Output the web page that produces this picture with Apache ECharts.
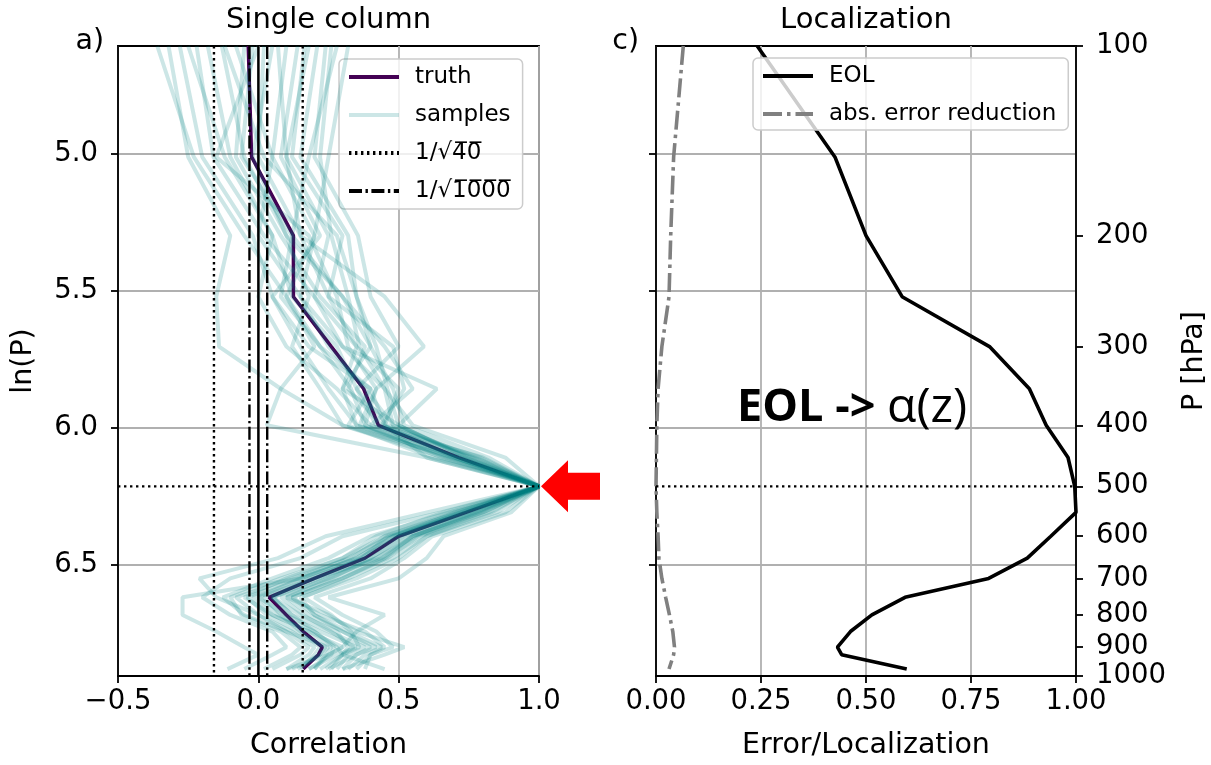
<!DOCTYPE html>
<html><head><meta charset="utf-8">
<script src="https://cdn.jsdelivr.net/npm/echarts@6/dist/echarts.min.js"></script>
<style>html,body{margin:0;padding:0;background:#fff}#c{width:1211px;height:765px}</style>
</head><body><div id="c"></div>
<script>
// ---------------- data ----------------
const levels = [100,150,200,250,300,350,400,450,500,550,600,650,700,750,800,850,900,925,975];
const truth  = [-0.036,-0.024,0.125,0.125,0.26,0.375,0.428,0.714,1,0.74,0.5,0.38,0.2,0.038,0.1,0.16,0.228,0.214,0.16];
const samples = [
 [-0.36,-0.23,-0.05,0.10,0.22,0.40,0.45,0.70,1,0.72,0.45,0.30,0.10,-0.05,0.05,0.18,0.30,0.25,0.10],
 [-0.32,-0.25,-0.10,-0.15,-0.14,0.08,0.30,0.66,1,0.78,0.55,0.42,0.25,0.05,0.12,0.20,0.28,0.30,0.22],
 [-0.22,-0.16,0.02,0.20,0.35,0.30,0.50,0.74,1,0.70,0.48,0.35,0.15,-0.27,-0.27,-0.15,-0.05,0.00,-0.11],
 [-0.13,-0.05,0.10,0.30,0.45,0.55,0.40,0.80,1,0.85,0.60,0.50,0.35,0.15,0.20,0.30,0.40,0.35,0.25],
 [-0.08,0.05,0.20,0.15,0.30,0.45,0.55,0.88,1,0.80,0.55,0.45,0.28,0.10,0.25,0.35,0.52,0.45,0.30],
 [0.02,0.00,0.15,0.45,0.59,0.42,0.38,0.65,1,0.68,0.40,0.25,0.05,-0.126,-0.05,0.10,0.18,0.15,0.05],
 [0.07,0.10,0.25,0.20,0.30,0.636,0.50,0.75,1,0.76,0.52,0.40,0.22,0.05,0.15,0.28,0.32,0.30,0.45],
 [0.165,0.12,0.30,0.25,0.35,0.50,0.45,0.60,1,0.90,0.66,0.60,0.50,0.25,0.45,0.35,0.30,0.25,0.20],
 [0.21,0.15,0.32,0.35,0.40,0.30,0.35,0.72,1,0.65,0.30,0.15,-0.10,-0.20,-0.10,0.05,0.10,0.05,-0.05],
 [0.24,0.20,0.355,0.40,0.50,0.35,0.42,0.70,1,0.75,0.48,0.35,0.15,0.00,0.10,0.22,0.35,0.28,0.18],
 [0.32,0.25,0.20,0.10,0.20,0.08,0.03,0.60,1,0.60,0.24,0.07,-0.21,-0.15,0.00,0.12,0.20,0.18,0.10],
 [-0.28,-0.20,-0.02,0.05,0.15,0.25,0.35,0.68,1,0.82,0.58,0.45,0.30,0.12,0.22,0.38,0.45,0.40,0.35],
 [-0.18,-0.10,0.05,0.00,0.10,0.28,0.40,0.73,1,0.78,0.55,0.44,0.20,0.02,0.08,0.15,0.22,0.20,0.15],
 [0.10,0.05,0.00,0.15,0.25,0.38,0.48,0.78,1,0.72,0.50,0.38,0.18,0.05,0.12,0.25,0.38,0.32,0.28],
 [-0.05,-0.08,0.08,0.22,0.38,0.32,0.44,0.72,1,0.70,0.45,0.33,0.12,-0.08,0.00,0.10,0.25,0.22,0.12],
 [0.28,0.18,0.12,0.30,0.40,0.48,0.52,0.82,1,0.88,0.62,0.52,0.40,0.20,0.30,0.42,0.48,0.40,0.38],
 [0.00,-0.15,0.18,0.28,0.32,0.42,0.36,0.67,1,0.74,0.50,0.36,0.16,-0.02,0.05,0.18,0.26,0.24,0.20],
 [-0.25,-0.12,0.05,0.12,0.28,0.35,0.46,0.76,1,0.79,0.56,0.42,0.24,0.08,0.16,0.26,0.34,0.30,0.26],
 [0.14,0.08,0.22,0.05,0.18,0.40,0.32,0.62,1,0.66,0.42,0.30,0.08,-0.10,-0.06,0.08,0.15,0.12,0.02],
 [-0.12,0.02,0.28,0.35,0.42,0.46,0.50,0.74,1,0.77,0.53,0.40,0.26,0.10,0.18,0.30,0.42,0.35,0.30],
 [0.05,-0.02,0.10,0.18,0.12,0.22,0.30,0.70,1,0.73,0.47,0.32,0.14,-0.04,0.03,0.14,0.24,0.22,0.14],
 [0.18,0.10,0.15,0.25,0.48,0.52,0.44,0.79,1,0.83,0.60,0.48,0.32,0.16,0.26,0.33,0.36,0.30,0.24],
 [-0.02,-0.06,0.12,0.08,0.22,0.33,0.38,0.69,1,0.71,0.46,0.37,0.20,0.00,0.07,0.20,0.27,0.26,0.18],
 [0.26,0.22,0.26,0.32,0.36,0.45,0.48,0.77,1,0.80,0.57,0.46,0.30,0.12,0.20,0.32,0.44,0.38,0.32]
];
const eol    = [0.241,0.426,0.50,0.586,0.794,0.889,0.929,0.981,0.997,1.0,0.94,0.884,0.792,0.593,0.514,0.463,0.432,0.442,0.597];
const errRed = [0.065,0.042,0.035,0.031,0.014,0.005,0.002,0.001,0.0,0.002,0.005,0.007,0.014,0.023,0.032,0.040,0.044,0.042,0.031];
const corrTicks = [-0.5,0.0,0.5,1.0];
const lnpTicks = [5.0,5.5,6.0,6.5];
const pTicks = [100,200,300,400,500,600,700,800,900,1000];
const pRange = [100,1000];
const obsLevel = 500;
const nEns = 40, nBig = 1000;

// ---------------- layout ----------------
const FONT = 'DejaVu Sans';
const TICK_FS = 27.5, NAME_FS = 28.5, TITLE_FS = 29, LEG_FS = 23;
const G0 = {left:118, top:46, width:421, height:631};
const G1 = {left:656, top:46, width:420, height:631};
const ymin = Math.log(pRange[0]), ymax = Math.log(pRange[1]);
const yObs = Math.log(obsLevel);
const lnp = levels.map(p => Math.log(p));
const r40 = 1/Math.sqrt(nEns), r1000 = 1/Math.sqrt(nBig);
const N40 = '1/\u221A4\u03050\u0305';
const N1000 = '1/\u221A1\u03050\u03050\u03050\u0305';

const chart = echarts.init(document.getElementById('c'), null, {renderer:'canvas'});

const axisLineS = {show:true, onZero:false, lineStyle:{color:'#000', width:1.8}};
const tickS = {show:true, length:7, lineStyle:{color:'#000', width:1.8}};
const labelS = {fontSize:TICK_FS, color:'#000', fontFamily:FONT};
const gridLineS = {show:true, lineStyle:{color:'#b0b0b0', width:1.8}};
const nameS = {fontSize:NAME_FS, color:'#000', fontFamily:FONT};

const series = [];
series.push({name:'truth', type:'line', xAxisIndex:0, yAxisIndex:0, symbol:'none', z:3,
  data: levels.map((p,i)=>[truth[i], lnp[i]]),
  lineStyle:{color:'#440154', width:3.5}, itemStyle:{color:'#440154'}});
samples.forEach(s => series.push({name:'samples', type:'line', xAxisIndex:0, yAxisIndex:0, symbol:'none', z:4,
  data: levels.map((p,i)=>[s[i], lnp[i]]),
  lineStyle:{color:'rgba(0,128,128,0.2)', width:4}, itemStyle:{color:'rgba(0,128,128,0.2)'}}));
[r40, -r40].forEach(v => series.push({name:N40, type:'line', xAxisIndex:0, yAxisIndex:0, symbol:'none', z:5,
  data:[[v,ymin],[v,ymax]], lineStyle:{color:'#000', width:2.4, type:[2.4,3.6]}, itemStyle:{color:'#000'}}));
[r1000, -r1000].forEach(v => series.push({name:N1000, type:'line', xAxisIndex:0, yAxisIndex:0, symbol:'none', z:5,
  data:[[v,ymin],[v,ymax]], lineStyle:{color:'#000', width:2.4, type:[13,3.5,2.4,3.5]}, itemStyle:{color:'#000'}}));
series.push({name:'zero', type:'line', xAxisIndex:0, yAxisIndex:0, symbol:'none', z:5,
  data:[[0,ymin],[0,ymax]], lineStyle:{color:'#000', width:2.4}});
series.push({name:'obs0', type:'line', xAxisIndex:0, yAxisIndex:0, symbol:'none', z:5,
  data:[[corrTicks[0],yObs],[corrTicks[3],yObs]], lineStyle:{color:'#000', width:2.4, type:[2.4,3.6]}});
series.push({name:'EOL', type:'line', xAxisIndex:1, yAxisIndex:1, symbol:'none', z:3,
  data: levels.map((p,i)=>[eol[i], lnp[i]]), lineStyle:{color:'#000', width:3.6}, itemStyle:{color:'#000'}});
series.push({name:'abs. error reduction', type:'line', xAxisIndex:1, yAxisIndex:1, symbol:'none', z:3,
  data: levels.map((p,i)=>[errRed[i], lnp[i]]), lineStyle:{color:'#808080', width:3.6, type:[19,5,3.5,5]}, itemStyle:{color:'#808080'}});
series.push({name:'obs1', type:'line', xAxisIndex:1, yAxisIndex:1, symbol:'none', z:5,
  data:[[0,yObs],[1,yObs]], lineStyle:{color:'#000', width:2.4, type:[2.4,3.6]}});

const legendCommon = {orient:'vertical', itemWidth:50, itemHeight:24, itemGap:14,
  backgroundColor:'rgba(255,255,255,0.8)', borderColor:'#cccccc', borderWidth:1.5, borderRadius:5,
  textStyle:{fontSize:LEG_FS, fontFamily:FONT, color:'#000', lineHeight:24, padding:[0,0,0,11]},
  lineStyle:{width:4}, itemStyle:{opacity:0}, selectedMode:false};

const option = {
  animation:false,
  grid:[Object.assign({show:true, borderColor:'#000', borderWidth:1.8}, G0),
        Object.assign({show:true, borderColor:'#000', borderWidth:1.8}, G1)],
  xAxis:[
    {type:'value', gridIndex:0, min:corrTicks[0], max:corrTicks[3], interval:0.5,
     axisLine:axisLineS, axisTick:tickS, splitLine:gridLineS,
     axisLabel:Object.assign({margin:12, formatter:v=>(v<0?'\u2212':'')+Math.abs(v).toFixed(1)}, labelS),
     name:'Correlation', nameLocation:'middle', nameGap:55, nameTextStyle:nameS},
    {type:'value', gridIndex:1, min:0, max:1, interval:0.25,
     axisLine:axisLineS, axisTick:tickS, splitLine:gridLineS,
     axisLabel:Object.assign({margin:12, formatter:v=>v.toFixed(2)}, labelS),
     name:'Error/Localization', nameLocation:'middle', nameGap:55, nameTextStyle:nameS}
  ],
  yAxis:[
    {type:'value', gridIndex:0, inverse:true, min:ymin, max:ymax,
     axisLine:axisLineS, axisTick:Object.assign({customValues:lnpTicks}, tickS), splitLine:gridLineS,
     axisLabel:Object.assign({margin:20, customValues:lnpTicks, formatter:v=>v.toFixed(1)}, labelS),
     name:'ln(P)', nameLocation:'middle', nameGap:80, nameRotate:90, nameTextStyle:nameS},
    {type:'value', gridIndex:1, inverse:true, min:ymin, max:ymax,
     axisLine:axisLineS, axisTick:Object.assign({customValues:lnpTicks}, tickS), splitLine:gridLineS,
     axisLabel:{show:false, customValues:lnpTicks}},
    {type:'value', gridIndex:1, position:'right', inverse:true, min:ymin, max:ymax,
     axisLine:axisLineS, axisTick:Object.assign({customValues:pTicks.map(p=>Math.log(p))}, tickS), splitLine:{show:false},
     axisLabel:Object.assign({margin:20, customValues:pTicks.map(p=>Math.log(p)), formatter:v=>String(Math.round(Math.exp(v)))}, labelS),
     name:'P [hPa]', nameLocation:'middle', nameGap:104, nameRotate:90, nameTextStyle:nameS}
  ],
  legend:[
    Object.assign({left:339, top:59, padding:[6,12,6,8], data:['truth','samples',N40,N1000]}, legendCommon),
    Object.assign({left:753, top:58, padding:[6,12,4,8], itemGap:12, data:['EOL','abs. error reduction']}, legendCommon)
  ],
  series:series
};
chart.setOption(option);

const tip = chart.convertToPixel({gridIndex:0}, [corrTicks[3], yObs]);
const ann = chart.convertToPixel({gridIndex:1}, [0.193, 5.93]);
const tf = s => s+'px "'+FONT+'"';
chart.setOption({graphic:[
  {type:'text', x:G0.left+G0.width/2, y:20, style:{text:'Single column', font:tf(TITLE_FS), fill:'#000', align:'center', verticalAlign:'middle'}},
  {type:'text', x:G1.left+G1.width/2, y:20, style:{text:'Localization', font:tf(TITLE_FS), fill:'#000', align:'center', verticalAlign:'middle'}},
  {type:'text', x:G0.left-14, y:42, style:{text:'a)', font:tf(NAME_FS), fill:'#000', align:'right', verticalAlign:'middle'}},
  {type:'text', x:G1.left-17, y:42, style:{text:'c)', font:tf(NAME_FS), fill:'#000', align:'right', verticalAlign:'middle'}},
  {type:'polygon', z:100, shape:{points:[[tip[0]+2,tip[1]],[tip[0]+29,tip[1]-26],[tip[0]+29,tip[1]-13.5],[tip[0]+61,tip[1]-13.5],[tip[0]+61,tip[1]+13.5],[tip[0]+29,tip[1]+13.5],[tip[0]+29,tip[1]+26]]}, style:{fill:'#ff0000'}},
  {type:'text', x:ann[0], y:ann[1], z:100, style:{text:'{b|EOL -> }{r|\u03B1(z)}', verticalAlign:'middle', align:'left',
     rich:{b:{font:'bold 45px "Open Sans"', fill:'#000'}, r:{font:'48px "Open Sans"', fill:'#000'}}}}
]});
</script></body></html>
